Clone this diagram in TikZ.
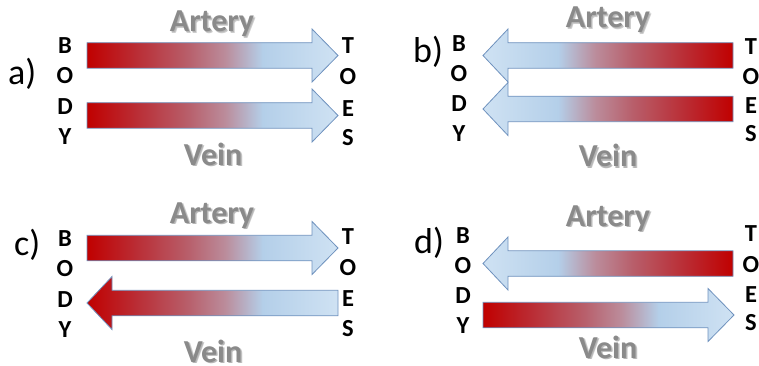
\documentclass[tikz,border=0pt]{standalone}
\usepackage{fontspec}
\setmainfont{Carlito}

% colours of the blood-flow gradient (oxygenated red to deoxygenated blue)
\definecolor{bfA}{HTML}{C00000}
\definecolor{bfB}{HTML}{BA2E36}
\definecolor{bfC}{HTML}{B85E6A}
\definecolor{bfD}{HTML}{BB8C9B}
\definecolor{bfE}{HTML}{B4CFE9}
\definecolor{bfF}{HTML}{CFE2F3}
\definecolor{arrowedge}{HTML}{6F92BE}
\definecolor{vesselgray}{HTML}{8A8A8A}
\definecolor{shadowgray}{HTML}{4A4A4A}

\pgfdeclarehorizontalshading{bloodflow}{100bp}{%
  color(0bp)=(bfA); color(25bp)=(bfA); color(35bp)=(bfB); color(45bp)=(bfC);
  color(52.5bp)=(bfD); color(60bp)=(bfE); color(75bp)=(bfF); color(100bp)=(bfF)}

\tikzset{
  flow/.style={shade, shading=bloodflow, draw=arrowedge, line width=0.8pt, line join=miter},
  leftflow/.style={flow, shading angle=180},
  letter/.style={font=\fontsize{24.5}{24.5}\selectfont\bfseries, inner sep=0pt},
  tag/.style={font=\fontsize{36}{36}\selectfont, anchor=base west, inner sep=0pt},
  vessel/.style={font=\fontsize{32}{32}\selectfont\bfseries, text=vesselgray, anchor=base, inner sep=0pt},
  vesselshadow/.style={vessel, text=shadowgray, opacity=0.28},
}

% block arrow: #1 style, #2 tail x, #3 head base x, #4 tip x, #5 axis y
\newcommand\flowarrow[5]{%
  \path[#1] (#2,#5-12.75) -- (#3,#5-12.75) -- (#3,#5-26.5) -- (#4,#5)
    -- (#3,#5+26.5) -- (#3,#5+12.75) -- (#2,#5+12.75) -- cycle;}

% vessel name with a soft drop shadow: #1 name, #2 x, #3 baseline y, #4 text
\newcommand\vessellabel[4]{%
  \node[vesselshadow] at (#2+1.8,#3+1.8) {#4};
  \node[vesselshadow, opacity=0.18] at (#2+1,#3+1) {#4};
  \node[vessel] (#1) at (#2,#3) {#4};}

\begin{document}
\begin{tikzpicture}[x=1pt, y=-1pt]
  \useasboundingbox (0,0) rectangle (759,366);
  \clip (0,0) rectangle (759,366);

  % ---------- a) both vessels flow body -> toes
  \node[tag] (tagA) at (8,85) {a)};
  \flowarrow{flow}{87}{312}{338}{55.5}
  \flowarrow{flow}{87}{312}{338}{115.5}
  \foreach \ch/\yy [count=\k] in {B/46,O/76,D/107,Y/137}
    \node[letter] (aBody\k) at (65,\yy) {\ch};
  \foreach \ch/\yy [count=\k] in {T/46,O/77,E/109,S/138}
    \node[letter] (aToes\k) at (348,\yy) {\ch};
  \vessellabel{aArtery}{212}{32}{Artery}
  \vessellabel{aVein}{213}{165}{Vein}

  % ---------- b) both vessels flow toes -> body
  \node[tag] (tagB) at (413,63) {b)};
  \flowarrow{leftflow}{733}{508}{483}{55.5}
  \flowarrow{leftflow}{733}{508}{483}{109}
  \foreach \ch/\yy [count=\k] in {B/44,O/74,D/104,Y/134}
    \node[letter] (bBody\k) at (459,\yy) {\ch};
  \foreach \ch/\yy [count=\k] in {T/47,O/77,E/106,S/134}
    \node[letter] (bToes\k) at (751,\yy) {\ch};
  \vessellabel{bArtery}{608}{28}{Artery}
  \vessellabel{bVein}{608}{167}{Vein}

  % ---------- c) artery out, vein back (red at the body end)
  \node[tag] (tagC) at (14,255) {c)};
  \flowarrow{flow}{87}{312}{338}{248}
  \flowarrow{flow}{338}{112}{87}{303}
  \foreach \ch/\yy [count=\k] in {B/239,O/269,D/300,Y/330}
    \node[letter] (cBody\k) at (65,\yy) {\ch};
  \foreach \ch/\yy [count=\k] in {T/237,O/268,E/299,S/329}
    \node[letter] (cToes\k) at (348,\yy) {\ch};
  \vessellabel{cArtery}{212}{223}{Artery}
  \vessellabel{cVein}{213}{362}{Vein}

  % ---------- d) artery back, vein out
  \node[tag] (tagD) at (414,253) {d)};
  \flowarrow{leftflow}{733}{508}{483}{263.5}
  \flowarrow{flow}{483}{708}{734}{315}
  \foreach \ch/\yy [count=\k] in {B/235.5,O/266,D/295.5,Y/325.5}
    \node[letter] (dBody\k) at (463,\yy) {\ch};
  \foreach \ch/\yy [count=\k] in {T/234,O/265,E/295,S/323}
    \node[letter] (dToes\k) at (751,\yy) {\ch};
  \vessellabel{dArtery}{608}{226}{Artery}
  \vessellabel{dVein}{608}{358}{Vein}
\end{tikzpicture}
\end{document}
